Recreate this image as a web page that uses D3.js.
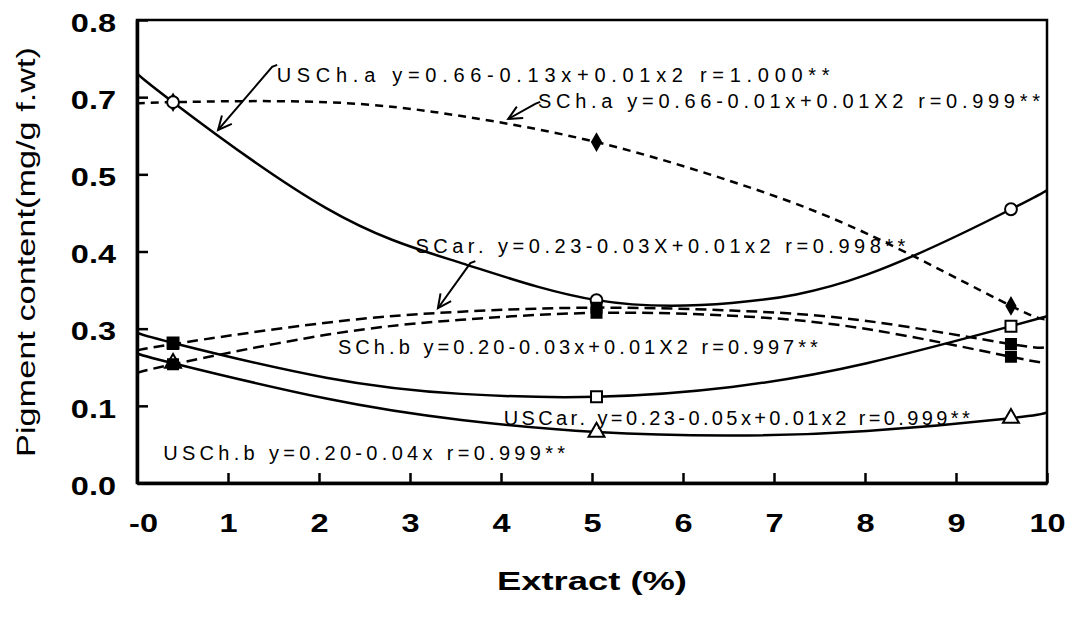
<!DOCTYPE html>
<html>
<head>
<meta charset="utf-8">
<title>Pigment content vs extract</title>
<style>
  body { margin: 0; background: #fff; }
  svg { display: block; }
  text { font-family: "Liberation Sans", Arial, sans-serif; fill: #000; }
</style>
</head>
<body>
<main></main>
<script src="https://cdn.jsdelivr.net/npm/d3@7"></script>
<script>
// extract levels where the samples were measured
const markX = [0.3, 5, 9.6];
const curveX = [-0.1, 0.3, 2, 3.5, 5, 6.5, 8, 9.6, 10];

// fitted curves (mg/g f.wt)
const usChaCurve = [0.708, 0.658, 0.475, 0.38, 0.316, 0.311, 0.36, 0.473, 0.506];
const sChaCurve  = [0.656, 0.658, 0.658, 0.634, 0.589, 0.521, 0.431, 0.306, 0.285];
const sCarCurve  = [0.229, 0.240, 0.277, 0.296, 0.303, 0.298, 0.280, 0.240, 0.236];
const sChbCurve  = [0.190, 0.205, 0.256, 0.282, 0.294, 0.289, 0.266, 0.218, 0.208];
const usCarCurve = [0.260, 0.242, 0.182, 0.154, 0.149, 0.166, 0.207, 0.271, 0.288];
const usChbCurve = [0.224, 0.207, 0.146, 0.109, 0.088, 0.082, 0.09, 0.112, 0.122];

// measured points
const usChaPts = [0.658, 0.316, 0.473];
const sChaPts  = [0.658, 0.589, 0.306];
const sCarPts  = [0.240, 0.303, 0.240];
const sChbPts  = [0.205, 0.294, 0.218];
const usCarPts = [0.242, 0.149, 0.271];
const usChbPts = [0.207, 0.088, 0.112];

const equations = [
  "USCh.a y=0.66-0.13x+0.01x2 r=1.000**",
  "SCh.a y=0.66-0.01x+0.01X2 r=0.999**",
  "SCar. y=0.23-0.03X+0.01x2 r=0.998**",
  "SCh.b y=0.20-0.03x+0.01X2 r=0.997**",
  "USCar. y=0.23-0.05x+0.01x2 r=0.999**",
  "USCh.b y=0.20-0.04x r=0.999**"
];

const xTickLabels = ["-0", "1", "2", "3", "4", "5", "6", "7", "8", "9", "10"];
const yTickLabels = ["0.0", "0.1", "0.3", "0.4", "0.5", "0.7", "0.8"];

const width = 1073, height = 620;
const margin = {top: 20, right: 26, bottom: 137, left: 137};

const x = d3.scaleLinear().domain([-0.1, 10]).range([margin.left, width - margin.right]);
const y = d3.scaleLinear().domain([0, 0.8]).range([height - margin.bottom, margin.top]);

// drawing order: filled diamond under the open circle, open markers under filled squares
const series = [
  {curve: sChaCurve,  pts: sChaPts,  dash: "8,6",  sym: d3.symbolDiamond, fill: "#000", size: 70},
  {curve: usChaCurve, pts: usChaPts, dash: null,   sym: d3.symbolCircle, fill: "#fff", size: 110},
  {curve: usCarCurve, pts: usCarPts, dash: null,   sym: d3.symbolSquare, fill: "#fff", size: 120},
  {curve: usChbCurve, pts: usChbPts, dash: null,   sym: d3.symbolTriangle, fill: "#fff", size: 110},
  {curve: sCarCurve,  pts: sCarPts,  dash: "11,6", sym: d3.symbolSquare, fill: "#000", size: 100},
  {curve: sChbCurve,  pts: sChbPts,  dash: "11,6", sym: d3.symbolSquare, fill: "#000", size: 100}
];

// where each equation label sits (data units) and its printed width
const labelPos = [
  {x: 1.45, y: 0.693, w: 553},
  {x: 4.35, y: 0.648, w: 502},
  {x: 2.99, y: 0.397, w: 490},
  {x: 2.13, y: 0.223, w: 480},
  {x: 3.97, y: 0.100, w: 466},
  {x: 0.19, y: 0.040, w: 402}
];
// leader arrows: [from, to] in data units
const arrows = [
  [[1.40, 0.719], [0.80, 0.610]],
  [[4.32, 0.655], [4.02, 0.629]],
  [[3.60, 0.380], [3.24, 0.302]]
];

const svg = d3.select("main").append("svg")
  .attr("width", width)
  .attr("height", height);

const line = d3.line()
  .x((d, i) => x(curveX[i]))
  .y(d => y(d))
  .curve(d3.curveNatural);

// curves
svg.append("g")
  .selectAll("path")
  .data(series)
  .join("path")
    .attr("d", d => line(d.curve))
    .attr("fill", "none")
    .attr("stroke", "#000")
    .attr("stroke-width", 2.5)
    .attr("stroke-dasharray", d => d.dash);

// markers
series.forEach(s => {
  svg.append("g")
    .selectAll("path")
    .data(s.pts)
    .join("path")
      .attr("transform", (d, i) => `translate(${x(markX[i])},${y(d)})`)
      .attr("d", d3.symbol().type(s.sym).size(s.size))
      .attr("fill", s.fill)
      .attr("stroke", "#000")
      .attr("stroke-width", 2);
});

// frame
svg.append("rect")
  .attr("x", x(-0.1)).attr("y", y(0.8))
  .attr("width", x(10) - x(-0.1)).attr("height", y(0) - y(0.8))
  .attr("fill", "none").attr("stroke", "#000").attr("stroke-width", 2.5);

// axes with inward ticks
const xAxis = d3.axisBottom(x)
  .tickValues(xTickLabels.map((d, i) => -0.1 + i * 1.01))
  .tickFormat((d, i) => xTickLabels[i])
  .tickSizeInner(-10).tickSizeOuter(0).tickPadding(31);

const yAxis = d3.axisLeft(y)
  .tickValues(yTickLabels.map((d, i) => i * 0.8 / 6))
  .tickFormat((d, i) => yTickLabels[i])
  .tickSizeInner(-11).tickSizeOuter(0).tickPadding(21);

const gx = svg.append("g").attr("transform", `translate(0,${y(0)})`).call(xAxis);
const gy = svg.append("g").attr("transform", `translate(${x(-0.1)},0)`).call(yAxis);

[gx, gy].forEach(g => {
  g.select(".domain").attr("stroke-width", 3.5);
  g.selectAll(".tick line").attr("stroke-width", 2.5);
  g.selectAll(".tick text")
    .attr("font-family", "Liberation Sans, Arial, sans-serif")
    .attr("font-size", 25)
    .attr("font-weight", "bold")
    .each(function() {
      const len = this.getComputedTextLength();
      d3.select(this).attr("textLength", len * 1.3).attr("lengthAdjust", "spacingAndGlyphs");
    });
});
gy.selectAll(".tick text").attr("dy", "0.45em");
gx.selectAll(".tick text").filter((d, i) => i === 0).attr("dx", 6);

// equation labels
svg.append("g")
  .selectAll("text")
  .data(equations)
  .join("text")
    .attr("x", (d, i) => x(labelPos[i].x))
    .attr("y", (d, i) => y(labelPos[i].y))
    .attr("font-size", 20)
    .attr("textLength", (d, i) => labelPos[i].w)
    .attr("lengthAdjust", "spacing")
    .text(d => d);

// leader arrows
const ag = svg.append("g").attr("stroke", "#000").attr("stroke-width", 2).attr("fill", "none");
arrows.forEach(a => {
  const x0 = x(a[0][0]), y0 = y(a[0][1]), x1 = x(a[1][0]), y1 = y(a[1][1]);
  const ang = Math.atan2(y0 - y1, x0 - x1);
  const head = 15, spread = 0.45;
  ag.append("path").attr("d", `M${x0 + 5},${y0 - 2}L${x0},${y0}L${x1},${y1}`);
  ag.append("path").attr("d",
    `M${x1 + head * Math.cos(ang - spread)},${y1 + head * Math.sin(ang - spread)}` +
    `L${x1},${y1}` +
    `L${x1 + head * Math.cos(ang + spread)},${y1 + head * Math.sin(ang + spread)}`);
});

// axis titles
svg.append("text")
  .attr("x", (x(-0.1) + x(10)) / 2)
  .attr("y", 590)
  .attr("text-anchor", "middle")
  .attr("font-size", 26)
  .attr("font-weight", "bold")
  .attr("textLength", 190)
  .attr("lengthAdjust", "spacingAndGlyphs")
  .text("Extract (%)");

svg.append("text")
  .attr("transform", "translate(35,252) rotate(-90)")
  .attr("text-anchor", "middle")
  .attr("font-size", 25)
  .attr("textLength", 410)
  .attr("lengthAdjust", "spacingAndGlyphs")
  .text("Pigment content(mg/g f.wt)");
</script>
</body>
</html>
